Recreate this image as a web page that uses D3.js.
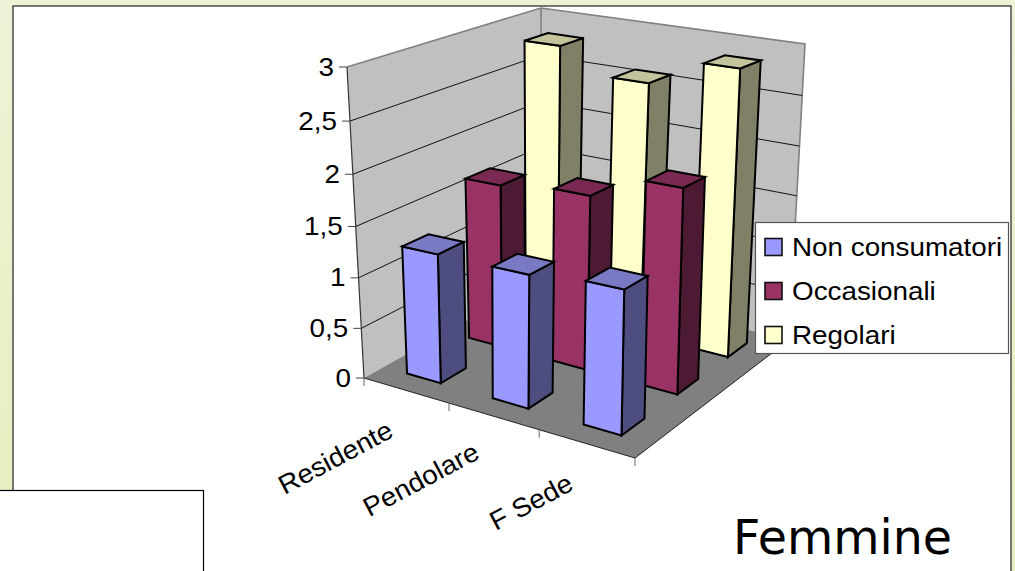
<!DOCTYPE html>
<html><head><meta charset="utf-8">
<script src="https://cdn.jsdelivr.net/npm/d3@7"></script>
<style>html,body{margin:0;padding:0;background:#fff;overflow:hidden}svg{display:block}</style>
</head><body><svg id="c" width="1015" height="571"></svg>
<script>
const categories = ["Residente","Pendolare","F Sede"];
const seriesNames = ["Non consumatori","Occasionali","Regolari"];
const nonConsumatori = [1.27,1.27,1.33];
const occasionali = [1.66,1.73,1.97];
const regolari = [2.83,2.59,2.86];
const valueTicks = [0,0.5,1,1.5,2,2.5,3];
const seriesValues = [nonConsumatori,occasionali,regolari];
const faceFront = ["#9999ff","#993366","#ffffcc"];
const faceSide = ["#4d4d80","#4d1a33","#808066"];
const faceTop = ["#7a7ac4","#7a2952","#c4c49c"];

const svg = d3.select("#c");
const defs = svg.append("defs");
const g0 = defs.append("linearGradient").attr("id","bg").attr("x1",0).attr("y1",0).attr("x2",0).attr("y2",1);
g0.append("stop").attr("offset",0).attr("stop-color","#edf3d6");
g0.append("stop").attr("offset",1).attr("stop-color","#e5eebd");
svg.append("rect").attr("width",1015).attr("height",571).attr("fill","url(#bg)");
svg.append("rect").attr("x",13).attr("y",6).attr("width",998).attr("height",570).attr("fill","#fff").attr("stroke","#222").attr("stroke-width",1.2);

// projection: floor quad and ceiling quad of the plot box
const floorQuad = [[364,378],[635,458],[789,340],[541,279]];
const ceilQuad = [[347,67],[641,108],[805,44],[541,8]];
const heightPerspective = 0.05;
function homography(q){
  const [p0,p1,p2,p3]=q;
  const dx1=p1[0]-p2[0],dx2=p3[0]-p2[0],sx=p0[0]-p1[0]+p2[0]-p3[0];
  const dy1=p1[1]-p2[1],dy2=p3[1]-p2[1],sy=p0[1]-p1[1]+p2[1]-p3[1];
  const den=dx1*dy2-dx2*dy1;
  const g=(sx*dy2-dx2*sy)/den,h=(dx1*sy-sx*dy1)/den;
  const m=[p1[0]-p0[0]+g*p1[0],p3[0]-p0[0]+h*p3[0],p0[0],
           p1[1]-p0[1]+g*p1[1],p3[1]-p0[1]+h*p3[1],p0[1],g,h,1];
  return (u,v)=>{const w=m[6]*u+m[7]*v+m[8];return [(m[0]*u+m[1]*v+m[2])/w,(m[3]*u+m[4]*v+m[5])/w];};
}
const Hf = homography(floorQuad), Hc = homography(ceilQuad);
const uScale = d3.scaleBand().domain(categories).range([-0.007,0.993]).paddingInner(0.6).paddingOuter(0.3);
const vScale = d3.scaleBand().domain(seriesNames).range([0,1]).paddingInner(0.6).paddingOuter(0.3);
const hScale = d3.scaleLinear().domain([0,3]).range([0,1]);
function P(u,v,val){
  const s=hScale(val), t=s*(1-heightPerspective)/(1-heightPerspective*s), a=Hf(u,v), b=Hc(u,v);
  return [a[0]+(b[0]-a[0])*t,a[1]+(b[1]-a[1])*t];
}
const poly = d3.line();
const closed = pts => poly(pts)+"Z";
const wall = svg.append("g");
wall.append("path").attr("d",closed([P(0,0,0),P(0,0,3),P(0,1,3),P(0,1,0)])).attr("fill","#c0c0c0");
wall.append("path").attr("d",closed([P(0,1,0),P(0,1,3),P(1,1,3),P(1,1,0)])).attr("fill","#c0c0c0");
wall.append("path").attr("d",closed([P(0,0,0),P(1,0,0),P(1,1,0),P(0,1,0)])).attr("fill","#808080");
wall.append("path").attr("d",poly([P(0,0,3),P(0,1,3),P(1,1,3),P(1,1,0)])).attr("fill","none").attr("stroke","#808080").attr("stroke-width",1.6);
wall.append("path").attr("d",poly([P(0,1,0),P(0,1,3)])).attr("fill","none").attr("stroke","#808080").attr("stroke-width",1.6);
valueTicks.filter(d=>d>0&&d<3).forEach(d=>{
  wall.append("path").attr("d",poly([P(0,0,d),P(0,1,d),P(1,1,d)])).attr("fill","none").attr("stroke","#111").attr("stroke-width",1);
});
wall.append("path").attr("d",poly([P(0,0,0),P(1,0,0)])).attr("fill","none").attr("stroke","#222").attr("stroke-width",1);
wall.append("path").attr("d",poly([P(1,0,0),P(1,1,0)])).attr("fill","none").attr("stroke","#222").attr("stroke-width",1);
wall.append("path").attr("d",poly([P(0,0,0),P(0,0,3)])).attr("fill","none").attr("stroke","#333").attr("stroke-width",1.2);
const fmt = d3.formatLocale({decimal:",",thousands:".",grouping:[3],currency:["","€"]}).format("~g");
const labelFont = {family:"Liberation Sans",size:26.5,stretch:1.05};
const addLabel = (sel,anchor,transform,txt)=>sel.append("text").attr("transform",transform+` scale(${labelFont.stretch},1)`)
  .attr("text-anchor",anchor).attr("font-family",labelFont.family).attr("font-size",labelFont.size).attr("fill","#000").text(txt);
valueTicks.forEach(d=>{
  const p=P(0,0,d);
  svg.append("line").attr("x1",p[0]-8).attr("x2",p[0]).attr("y1",p[1]).attr("y2",p[1]).attr("stroke","#444").attr("stroke-width",1);
  addLabel(svg,"end",`translate(${p[0]-13},${p[1]+8.5})`,fmt(d));
});
[0,1,2,3].forEach(i=>{
  const p=P(i/3,0,0);
  svg.append("line").attr("x1",p[0]).attr("x2",p[0]).attr("y1",p[1]).attr("y2",p[1]+8).attr("stroke","#666").attr("stroke-width",1);
});
const labelShift = [[-54,33],[-58,28],[-60,31]];
categories.forEach((c,i)=>{
  const p=P((i+1)/3,0,0);
  addLabel(svg,"end",`translate(${p[0]+labelShift[i][0]},${p[1]+labelShift[i][1]}) rotate(-28)`,c);
});
const bars = svg.append("g");
for(let j=2;j>=0;j--){
  categories.forEach((c,i)=>{
    const val=seriesValues[j][i];
    const u0=uScale(c),u1=u0+uScale.bandwidth();
    const v0=vScale(seriesNames[j]),v1=v0+vScale.bandwidth();
    const st=(sel,fill)=>sel.attr("fill",fill).attr("stroke","#000").attr("stroke-width",2).attr("stroke-linejoin","miter");
    st(bars.append("path").attr("d",closed([P(u1,v0,0),P(u1,v1,0),P(u1,v1,val),P(u1,v0,val)])),faceSide[j]);
    st(bars.append("path").attr("d",closed([P(u0,v0,0),P(u1,v0,0),P(u1,v0,val),P(u0,v0,val)])),faceFront[j]);
    st(bars.append("path").attr("d",closed([P(u0,v0,val),P(u1,v0,val),P(u1,v1,val),P(u0,v1,val)])),faceTop[j]);
  });
}
const lg=svg.append("g");
lg.append("rect").attr("x",755.5).attr("y",222.5).attr("width",253).attr("height",131).attr("fill","#fff").attr("stroke","#555").attr("stroke-width",1.2);
const legendY=d3.scalePoint().domain(seriesNames).range([247,335]);
seriesNames.forEach((s,j)=>{
  lg.append("rect").attr("x",765).attr("y",legendY(s)-8.5).attr("width",17).attr("height",17).attr("fill",faceFront[j]).attr("stroke","#111").attr("stroke-width",1.6);
  addLabel(lg,"start",`translate(792,${legendY(s)+8.5})`,s);
});
svg.append("rect").attr("x",-2).attr("y",490.5).attr("width",205.5).attr("height",90).attr("fill","#fff").attr("stroke","#000").attr("stroke-width",1.2);
svg.append("text").attr("x",733).attr("y",554).attr("font-family","DejaVu Sans").attr("font-size",47.5).attr("fill","#000").text("Femmine");
</script></body></html>
